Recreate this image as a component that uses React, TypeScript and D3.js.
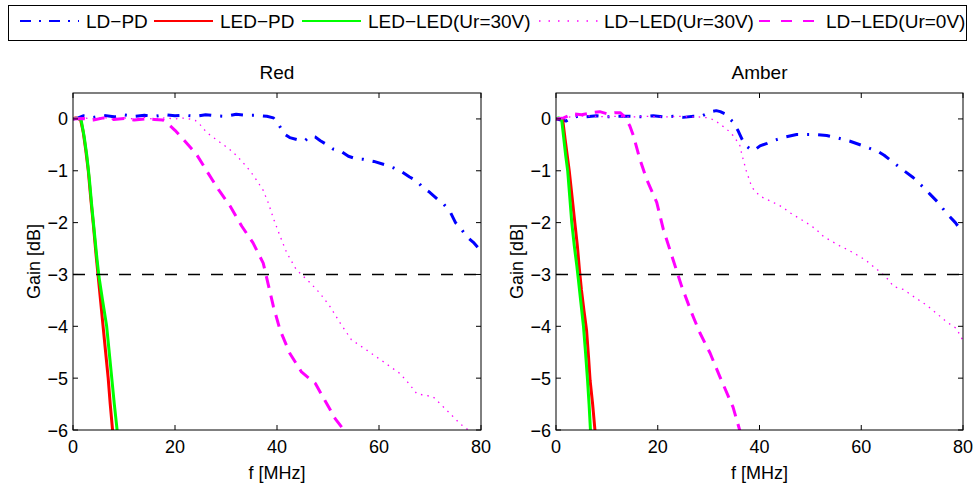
import * as d3 from "d3";

type Pt = [number, number];

const panelTitles = ["Red", "Amber"];
const xTicks = [0, 20, 40, 60, 80];
const yTicks = [0, -1, -2, -3, -4, -5, -6];
const legendLabels = ["LD\u2212PD", "LED\u2212PD", "LED\u2212LED(Ur=30V)", "LD\u2212LED(Ur=30V)", "LD\u2212LED(Ur=0V)"];

// Red panel
const redLdPd: Pt[] = [[0,0],[1,0.02],[2,0.06],[4,0.03],[6,0.07],[8,0.04],[10,0.08],[12,0.05],[14,0.07],[16,0.05],[18,0.08],[20,0.06],[22,0.07],[24,0.05],[26,0.08],[28,0.06],[30,0.05],[32,0.09],[34,0.07],[36,0.07],[38,0.05],[39.3,0.02],[40.3,-0.1],[41.3,-0.28],[42.5,-0.36],[44,-0.4],[45.5,-0.42],[46.5,-0.33],[47.5,-0.35],[48.5,-0.42],[49.5,-0.48],[51,-0.58],[52.5,-0.62],[54,-0.72],[55.5,-0.77],[57,-0.78],[59,-0.82],[61,-0.88],[63,-0.95],[64.5,-1.02],[66,-1.12],[67.5,-1.2],[68.5,-1.32],[70,-1.42],[71.5,-1.55],[72.5,-1.62],[74,-1.8],[75,-2.0],[76,-2.1],[77,-2.25],[78.5,-2.38],[80,-2.55]];
const redLedPd: Pt[] = [[0,0],[0.5,0.02],[1,0.01],[1.5,-0.02],[2,-0.25],[2.5,-0.6],[3,-1.0],[3.5,-1.55],[4,-2.05],[4.5,-2.6],[4.9,-3.0],[5.4,-3.5],[5.9,-4.0],[6.4,-4.5],[6.9,-5.0],[7.3,-5.5],[7.8,-6.05]];
const redLedLed: Pt[] = [[0,0],[0.5,0.01],[1,0.01],[1.6,-0.02],[2.2,-0.35],[2.7,-0.7],[3.2,-1.15],[3.7,-1.7],[4.2,-2.2],[4.7,-2.7],[5.1,-3.05],[5.8,-3.5],[6.6,-4.0],[7.1,-4.5],[7.6,-5.0],[8.1,-5.5],[8.7,-6.05]];
const redLdLed30: Pt[] = [[0,0],[2,0.02],[4,0.0],[6,0.03],[8,-0.01],[10,0.02],[12,0.0],[14,0.03],[16,-0.01],[18,0.02],[20,0.0],[22,0.02],[24,-0.03],[25,-0.12],[26.2,-0.26],[28.8,-0.45],[30.5,-0.57],[32.1,-0.71],[33.4,-0.85],[34.7,-1.0],[36,-1.18],[37.3,-1.38],[38.3,-1.62],[39.3,-1.92],[40.6,-2.26],[41.9,-2.58],[43.8,-2.91],[46.5,-3.16],[48.4,-3.36],[50.4,-3.62],[52.4,-3.94],[54.6,-4.26],[57.6,-4.46],[60.8,-4.68],[64.1,-4.91],[66,-5.12],[67.4,-5.3],[70.6,-5.36],[73.3,-5.62],[75.9,-5.88],[77.5,-6.0],[78.5,-6.1]];
const redLdLed0: Pt[] = [[0,0],[2,0.01],[4,-0.02],[6,0.02],[8,-0.01],[10,0.01],[12,-0.02],[14,0.0],[16,-0.01],[17.6,-0.02],[18.4,-0.07],[20,-0.22],[21.6,-0.39],[24.2,-0.68],[26.2,-1.0],[28.5,-1.36],[30.8,-1.68],[33.1,-2.07],[35.3,-2.39],[37.3,-2.78],[38.3,-3.2],[39.3,-3.62],[40.6,-4.07],[42.5,-4.52],[44.8,-4.88],[47.5,-5.1],[49.4,-5.43],[51.4,-5.78],[53.1,-6.0],[53.6,-6.1]];

// Amber panel
const amberLdPd: Pt[] = [[0,0],[1,-0.02],[2,-0.04],[3,0.02],[4.7,0.06],[6,0.04],[8,0.06],[10,0.04],[12,0.05],[14.5,0.05],[17,0.04],[19.1,0.06],[21,0.04],[23,0.05],[25,0.03],[27,0.05],[28.5,0.05],[29.6,0.1],[30.5,0.14],[31.5,0.16],[32.3,0.14],[33.2,0.1],[34.8,-0.06],[35.8,-0.23],[36.6,-0.4],[37.4,-0.52],[38.5,-0.61],[39.3,-0.58],[40.1,-0.52],[41.5,-0.47],[42.7,-0.42],[45,-0.35],[47.3,-0.3],[50.6,-0.3],[53.2,-0.32],[55.5,-0.37],[57.8,-0.43],[60.4,-0.52],[62,-0.58],[63,-0.61],[64.5,-0.7],[66.3,-0.84],[68,-0.97],[70.2,-1.13],[72,-1.3],[73.5,-1.45],[75,-1.6],[76.7,-1.81],[78.5,-2.0],[80,-2.2]];
const amberLedPd: Pt[] = [[0,0],[0.6,0.01],[1.3,0.0],[1.8,-0.4],[2.2,-0.7],[2.6,-1.0],[3.1,-1.45],[3.7,-2.0],[4.2,-2.45],[4.6,-2.9],[5.0,-3.3],[5.5,-3.7],[6.0,-4.07],[6.4,-4.6],[6.7,-5.04],[7.2,-5.5],[7.7,-6.05]];
const amberLedLed: Pt[] = [[0,0],[0.5,0.02],[1.1,0.0],[1.5,-0.35],[1.9,-0.7],[2.3,-1.0],[2.7,-1.5],[3.1,-2.0],[3.6,-2.45],[4.1,-2.84],[4.4,-3.1],[4.9,-3.55],[5.4,-4.0],[5.8,-4.5],[6.2,-5.04],[6.5,-5.5],[6.8,-6.05]];
const amberLdLed30: Pt[] = [[0,0],[2,0.03],[4,0.05],[6,0.06],[8,0.05],[10,0.04],[12,0.05],[14,0.04],[16,0.04],[18,0.05],[20,0.04],[22,0.04],[24,0.05],[26,0.04],[28,0.04],[30,0.02],[31.3,-0.03],[32.2,-0.1],[33.5,-0.19],[34.8,-0.32],[36.1,-0.5],[36.6,-0.71],[37.4,-1.0],[38.5,-1.32],[40.1,-1.49],[42.7,-1.61],[44.5,-1.7],[46,-1.81],[47.5,-1.9],[49.2,-2.0],[51,-2.12],[52.5,-2.26],[54,-2.35],[55.8,-2.45],[57.5,-2.53],[59.1,-2.62],[60.8,-2.72],[62.3,-2.84],[64.3,-3.0],[65.5,-3.12],[66.3,-3.23],[68.3,-3.29],[70.2,-3.42],[72.8,-3.59],[74.8,-3.75],[76.7,-3.91],[78.7,-4.04],[80,-4.28]];
const amberLdLed0: Pt[] = [[0,0],[1.5,0.02],[3.4,0.1],[5,0.08],[7,0.12],[8.6,0.14],[10,0.1],[11.5,0.12],[12.6,0.12],[13.3,0.06],[13.9,-0.03],[14.5,-0.13],[15.2,-0.32],[16.5,-0.78],[17.8,-1.16],[19.8,-1.61],[21.1,-2.13],[23,-2.71],[24.7,-3.23],[26.7,-3.75],[28.3,-4.13],[30.3,-4.52],[32.2,-4.97],[34.8,-5.56],[36.1,-6.0],[36.4,-6.1]];

const panelData = [
  [redLdPd, redLedPd, redLedLed, redLdLed30, redLdLed0],
  [amberLdPd, amberLedPd, amberLedLed, amberLdLed30, amberLdLed0],
];

const styles = [
  { color: "#0000ff", width: 3, dash: "12,9,2,9", legendWidth: 2, legendDash: "11,8,2,8" },
  { color: "#ff0000", width: 3, dash: null, legendWidth: 2, legendDash: null },
  { color: "#00ff00", width: 3, dash: null, legendWidth: 2, legendDash: null },
  { color: "#ff00ff", width: 1.3, dash: "1.5,5", legendWidth: 1.5, legendDash: "1.5,8" },
  { color: "#ff00ff", width: 3, dash: "12,8", legendWidth: 2, legendDash: "11,11" },
];

const FONT = "'Liberation Sans', Arial, Helvetica, sans-serif";
const W = 977;
const H = 486;
const panels = [
  { left: 73, right: 481 },
  { left: 556, right: 963 },
];
const top = 93;
const bottom = 430;

const legendEntries = [
  { x1: 20, x2: 79, tx: 86 },
  { x1: 154, x2: 213, tx: 220 },
  { x1: 302, x2: 361, tx: 368 },
  { x1: 539, x2: 598, tx: 604 },
  { x1: 759, x2: 818, tx: 826 },
];

function Panel({ idx }: { idx: number }) {
  const p = panels[idx];
  const x = d3.scaleLinear().domain([0, 80]).range([p.left, p.right]);
  const y = d3.scaleLinear().domain([-6, 0.5]).range([bottom, top]);
  const line = d3.line<Pt>().x((d) => x(d[0])).y((d) => y(d[1]));
  const clipId = `clip-${idx}`;
  const cx = (p.left + p.right) / 2;
  return (
    <g>
      <defs>
        <clipPath id={clipId}>
          <rect x={p.left} y={top} width={p.right - p.left} height={bottom - top} />
        </clipPath>
      </defs>
      <rect x={p.left} y={top} width={p.right - p.left} height={bottom - top} fill="#fff" />
      <g clipPath={`url(#${clipId})`}>
        {panelData[idx].map((series, i) => (
          <path
            key={i}
            d={line(series) || ""}
            fill="none"
            stroke={styles[i].color}
            strokeWidth={styles[i].width}
            strokeDasharray={styles[i].dash || undefined}
            strokeLinejoin="round"
          />
        ))}
        <line x1={x(0)} x2={x(80)} y1={y(-3)} y2={y(-3)} stroke="#000" strokeWidth={1.5} strokeDasharray="12,11" />
      </g>
      <rect x={p.left} y={top} width={p.right - p.left} height={bottom - top} fill="none" stroke="#000" strokeWidth={1} />
      {xTicks.map((t) => (
        <g key={`x${t}`}>
          <line x1={x(t)} x2={x(t)} y1={bottom} y2={bottom - 5} stroke="#000" />
          <line x1={x(t)} x2={x(t)} y1={top} y2={top + 5} stroke="#000" />
          <text x={x(t)} y={bottom + 23} textAnchor="middle" fontSize={18} fontFamily={FONT}>{t}</text>
        </g>
      ))}
      {yTicks.map((t) => (
        <g key={`y${t}`}>
          <line x1={p.left} x2={p.left + 5} y1={y(t)} y2={y(t)} stroke="#000" />
          <line x1={p.right} x2={p.right - 5} y1={y(t)} y2={y(t)} stroke="#000" />
          <text x={p.left - 5} y={y(t) + 6.5} textAnchor="end" fontSize={18} fontFamily={FONT}>
            {t < 0 ? `\u2212${-t}` : `${t}`}
          </text>
        </g>
      ))}
      <text x={cx} y={79} textAnchor="middle" fontSize={19} fontFamily={FONT}>{panelTitles[idx]}</text>
      <text x={cx} y={479} textAnchor="middle" fontSize={18} fontFamily={FONT}>f [MHz]</text>
      <text
        transform={`translate(${p.left - 33},${(top + bottom) / 2}) rotate(-90)`}
        textAnchor="middle"
        fontSize={18}
        fontFamily={FONT}
      >
        Gain [dB]
      </text>
    </g>
  );
}

export default function App() {
  return (
    <div style={{ position: "absolute", left: 0, top: 0 }}>
      <svg width={W} height={H} style={{ display: "block", background: "#fff" }}>
        <rect x={0} y={0} width={W} height={H} fill="#fff" />
        <rect x={8.5} y={5.5} width={958} height={35} fill="#fff" stroke="#000" strokeWidth={1} />
        {legendEntries.map((e, i) => (
          <g key={i}>
            <line
              x1={e.x1}
              x2={e.x2}
              y1={21}
              y2={21}
              stroke={styles[i].color}
              strokeWidth={styles[i].legendWidth}
              strokeDasharray={styles[i].legendDash || undefined}
            />
            <text x={e.tx} y={28} fontSize={19} fontFamily={FONT}>{legendLabels[i]}</text>
          </g>
        ))}
        <Panel idx={0} />
        <Panel idx={1} />
      </svg>
    </div>
  );
}
